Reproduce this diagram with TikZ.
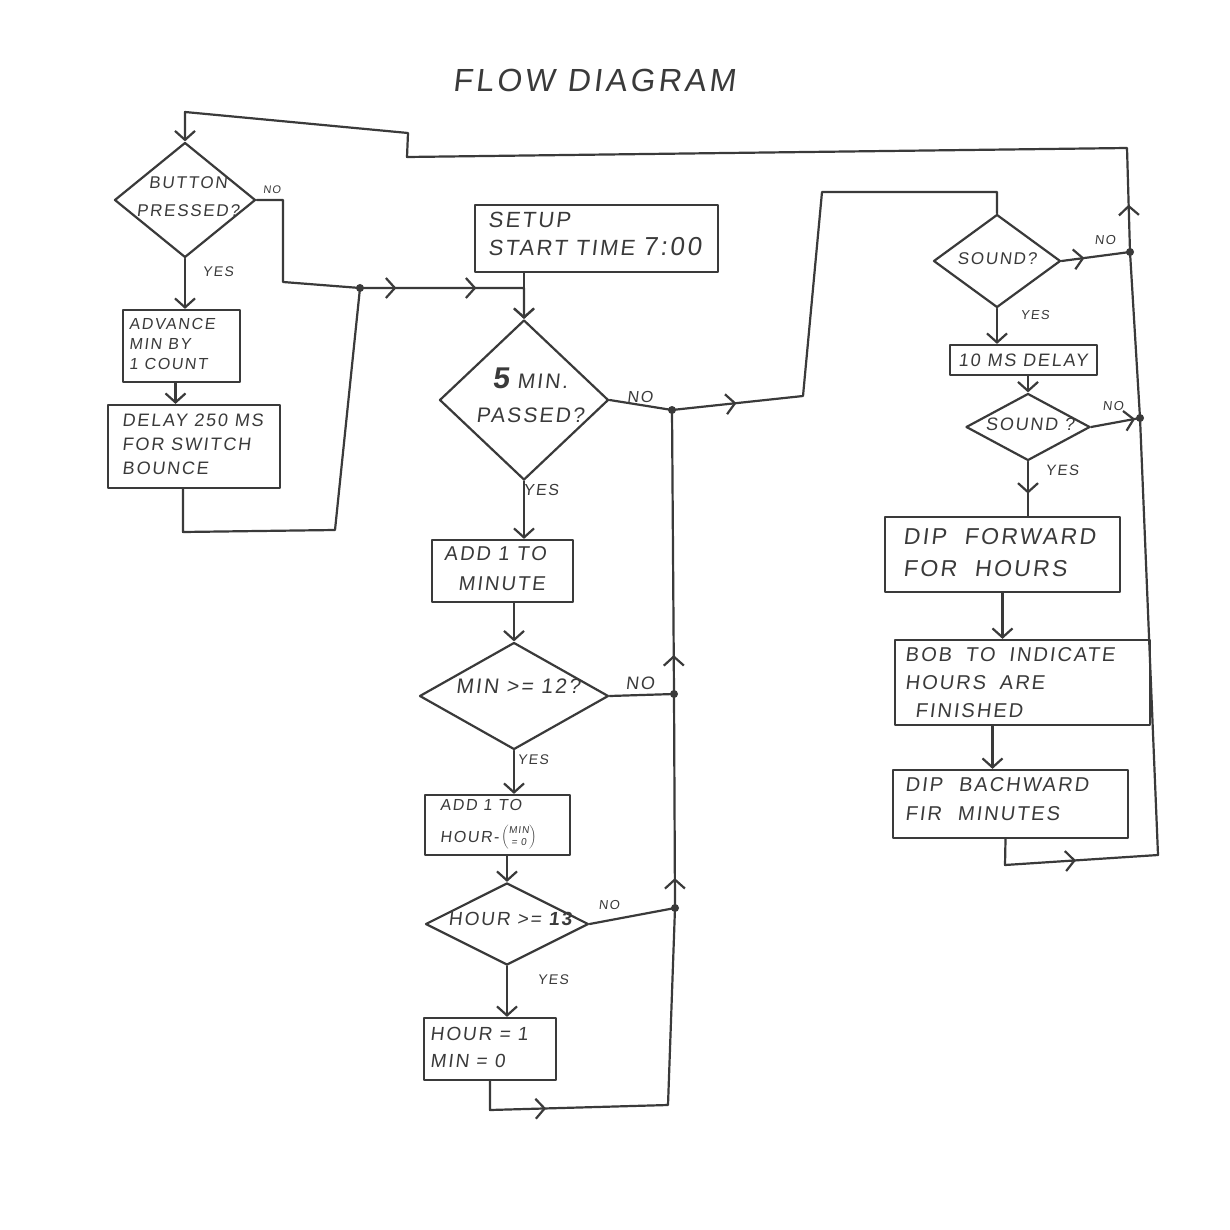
\documentclass[tikz,border=0pt]{standalone}
\usepackage{fontspec}
\setmainfont{Liberation Sans}[LetterSpace=10,FakeSlant=0.12]
\usetikzlibrary{shapes.geometric,arrows.meta,decorations.markings}
\definecolor{ink}{HTML}{3A3A3A}
\tikzset{
  hb/.tip={Straight Barb[length=9pt,width=20pt]},
  ln/.style={draw=ink, line width=2.2pt, line join=round, line cap=round},
  dia/.style={ln, diamond, aspect=1, inner sep=0pt},
  box/.style={ln, rectangle, inner sep=0pt},
  txt/.style={text=ink, inner sep=0pt, align=left},
  lab/.style={text=ink, inner sep=0pt, font=\fontsize{14}{14}\selectfont},
  dot/.style={circle, fill=ink, inner sep=0pt, minimum size=8pt},
  arrat/.style={postaction={decorate}, decoration={markings, mark=at position #1 with {\arrow{hb}}}},
  arrtwo/.style 2 args={postaction={decorate}, decoration={markings, mark=at position #1 with {\arrow{hb}}, mark=at position #2 with {\arrow{hb}}}},
  arrthree/.style n args={3}{postaction={decorate}, decoration={markings, mark=at position #1 with {\arrow{hb}}, mark=at position #2 with {\arrow{hb}}, mark=at position #3 with {\arrow{hb}}}},
}
\begin{document}
\begin{tikzpicture}[x=1pt,y=-1pt]
\fill[white] (0,0) rectangle (1230,1230);
\useasboundingbox (0,0) rectangle (1230,1230);

% title
\node[txt, font=\fontsize{32}{32}\selectfont] (title) at (594,80) {FLOW DIAGRAM};

% shapes
\node[dia, minimum width=141pt, minimum height=115pt] (btn) at (185,200) {};
\node[box, minimum width=117pt, minimum height=72pt] (adv) at (181.5,346) {};
\node[box, minimum width=172pt, minimum height=83pt] (delay) at (194,446.5) {};
\node[box, minimum width=243pt, minimum height=67pt] (setup) at (596.5,238.5) {};
\node[dia, minimum width=169pt, minimum height=160pt] (min5) at (524,400) {};
\node[box, minimum width=141pt, minimum height=62pt] (add1m) at (502.5,571) {};
\node[dia, minimum width=189pt, minimum height=107pt] (min12) at (514,696) {};
\node[box, minimum width=145pt, minimum height=60pt] (add1h) at (497.5,825) {};
\node[dia, minimum width=163pt, minimum height=82pt] (hour) at (507,924) {};
\node[box, minimum width=132pt, minimum height=62pt] (hr1) at (490,1049) {};
\node[dia, minimum width=127pt, minimum height=93pt] (snd1) at (997,261) {};
\node[box, minimum width=147pt, minimum height=30pt] (d10) at (1023.5,360) {};
\node[dia, minimum width=124pt, minimum height=67pt] (snd2) at (1028,427) {};
\node[box, minimum width=235pt, minimum height=75pt] (dipf) at (1002.5,554.5) {};
\node[box, minimum width=255pt, minimum height=85pt] (bob) at (1022.5,682.5) {};
\node[box, minimum width=235pt, minimum height=68pt] (dipb) at (1010.5,804) {};

% texts
\node[txt, align=center, font=\fontsize{17}{28}\selectfont] (btnt) at (188,197) {BUTTON\\PRESSED?};
\node[txt, anchor=north west, font=\fontsize{16}{20}\selectfont] (advt) at (129,318) {ADVANCE\\MIN BY\\1 COUNT};
\node[txt, anchor=north west, font=\fontsize{18}{24}\selectfont] (delayt) at (122,414) {DELAY 250 MS\\FOR SWITCH\\BOUNCE};
\node[txt, anchor=north west, font=\fontsize{22}{28}\selectfont] (setupt) at (488,212) {SETUP\\START TIME {\fontsize{26}{28}\selectfont 7:00}};
\node[txt, align=center, font=\fontsize{21}{34}\selectfont] (min5t) at (530,395) {{\bfseries\fontsize{30}{30}\selectfont 5} MIN.\\PASSED?};
\node[txt, anchor=north west, font=\fontsize{20}{30}\selectfont] (add1mt) at (444,546) {ADD 1 TO\\\hspace{14pt}MINUTE};
\node[txt, font=\fontsize{21}{21}\selectfont] (min12t) at (518,686) {MIN >= 12?};
\node[txt, anchor=north west, font=\fontsize{16}{16}\selectfont] (add1ht) at (440,799) {ADD 1 TO};
\node[txt, anchor=west, font=\fontsize{16}{16}\selectfont] (add1hu) at (440,837) {HOUR-};
\node[txt, anchor=west, font=\fontsize{10}{12}\selectfont] (add1hv) at ([xshift=2pt]add1hu.east) {$\left(\vcenter{\hbox{\begin{tabular}{@{}c@{}}MIN\\= 0\end{tabular}}}\right)$};
\node[txt, font=\fontsize{19}{19}\selectfont] (hourt) at (510,919) {HOUR >= {\bfseries 13}};
\node[txt, anchor=north west, font=\fontsize{19}{27}\selectfont] (hr1t) at (430,1027) {HOUR = 1\\MIN = 0};
\node[txt, font=\fontsize{17}{17}\selectfont] (snd1t) at (997,259) {SOUND?};
\node[txt, font=\fontsize{18}{18}\selectfont] (d10t) at (1023,360) {10 MS DELAY};
\node[txt, font=\fontsize{18}{18}\selectfont] (snd2t) at (1030,424) {SOUND ?};
\node[txt, anchor=north west, font=\fontsize{23}{32}\selectfont] (dipft) at (903,528) {DIP\hspace{18pt}FORWARD\\FOR\hspace{18pt}HOURS};
\node[txt, anchor=north west, font=\fontsize{20}{28}\selectfont] (bobt) at (905,647) {BOB\hspace{14pt}TO\hspace{14pt}INDICATE\\HOURS\hspace{14pt}ARE\\\hspace{10pt}FINISHED};
\node[txt, anchor=north west, font=\fontsize{20}{29}\selectfont] (dipbt) at (905,777) {DIP\hspace{16pt}BACHWARD\\FIR\hspace{16pt}MINUTES};

% yes / no labels
\node[lab, font=\fontsize{11}{11}\selectfont] (l1) at (272,190) {NO};
\node[lab] (l2) at (218,272) {YES};
\node[lab, font=\fontsize{16}{16}\selectfont] (l3) at (640,397) {NO};
\node[lab, font=\fontsize{16}{16}\selectfont] (l4) at (541,490) {YES};
\node[lab, font=\fontsize{18}{18}\selectfont] (l5) at (640,683) {NO};
\node[lab] (l6) at (533,760) {YES};
\node[lab, font=\fontsize{13}{13}\selectfont] (l7) at (609,905) {NO};
\node[lab] (l8) at (553,980) {YES};
\node[lab, font=\fontsize{13}{13}\selectfont] (l9) at (1105,240) {NO};
\node[lab, font=\fontsize{13}{13}\selectfont] (l10) at (1035,315) {YES};
\node[lab, font=\fontsize{13}{13}\selectfont] (l11) at (1113,406) {NO};
\node[lab, font=\fontsize{15}{15}\selectfont] (l12) at (1062,470) {YES};

% junctions and bends
\node[dot] (jL) at (360,288) {};
\node[dot] (jA) at (672,410) {};
\node[dot] (jB) at (674,694) {};
\node[dot] (jC) at (675,908) {};
\node[dot] (jR1) at (1130,252) {};
\node[dot] (jR2) at (1140,418) {};
\coordinate (rt) at (1127,148);
\coordinate (kA) at (407,157);
\coordinate (kB) at (408,133);
\coordinate (kC) at (185,112);
\coordinate (rb) at (1158,855);
\coordinate (bA) at (283,200);
\coordinate (bB) at (283,282);
\coordinate (dA) at (183,532);
\coordinate (dB) at (335,530);
\coordinate (sA) at (803,396);
\coordinate (sB) at (822,192);
\coordinate (hA) at (490,1110);
\coordinate (hB) at (668,1105);
\coordinate (bq) at (1005,865);

% connectors
\draw[ln, -hb, arrat=651pt] (rb) -- (jR2.center) -- (jR1.center) -- (rt) -- (kA) -- (kB) -- (kC) -- (btn.north);
\draw[ln, -hb, arrtwo={222pt}{302pt}] (btn.east) -- (bA) -- (bB) -- (jL.center) -- (min5.north |- jL) -- (min5.north);
\draw[ln, -hb] (setup.south -| min5.north) -- (min5.north);
\draw[ln, -hb] (btn.south) -- (btn.south |- adv.north);
\draw[ln, -hb] ([xshift=-6pt]adv.south) -- ([xshift=-6pt]adv.south |- delay.north);
\draw[ln] ([xshift=-11pt]delay.south) -- (dA) -- (dB) -- (jL.center);
\draw[ln, arrat=128pt] (min5.east) -- (jA.center) -- (sA) -- (sB) -- (sB -| snd1.north) -- (snd1.north);
\draw[ln, -hb] (min5.south) -- (min5.south |- add1m.north);
\draw[ln, -hb] (min12.north |- add1m.south) -- (min12.north);
\draw[ln] (min12.east) -- (jB.center);
\draw[ln, -hb] (min12.south) -- (min12.south |- add1h.north);
\draw[ln, -hb] (hour.north |- add1h.south) -- (hour.north);
\draw[ln] (hour.east) -- (jC.center);
\draw[ln, -hb] (hour.south) -- (hour.south |- hr1.north);
\draw[ln, arrthree={85pt}{434pt}{657pt}] (hr1.south) -- (hA) -- (hB) -- (jC.center) -- (jB.center) -- (jA.center);
% right column
\draw[ln, arrat=23pt] (snd1.east) -- (jR1.center);
\draw[ln, -hb] (snd1.south) -- (snd1.south |- d10.north);
\draw[ln, -hb] (d10.south -| snd2.north) -- (snd2.north);
\draw[ln, arrat=-5pt] (snd2.east) -- (jR2.center);
\draw[ln, arrat=32pt] (snd2.south) -- (snd2.south |- dipf.north);
\draw[ln, -hb] (dipf.south) -- (dipf.south |- bob.north);
\draw[ln, -hb] ([xshift=-30pt]bob.south) -- ([xshift=-30pt]bob.south |- dipb.north);
\draw[ln, arrat=97pt] ([xshift=-5pt]dipb.south) -- (bq) -- (rb);
\end{tikzpicture}
\end{document}
